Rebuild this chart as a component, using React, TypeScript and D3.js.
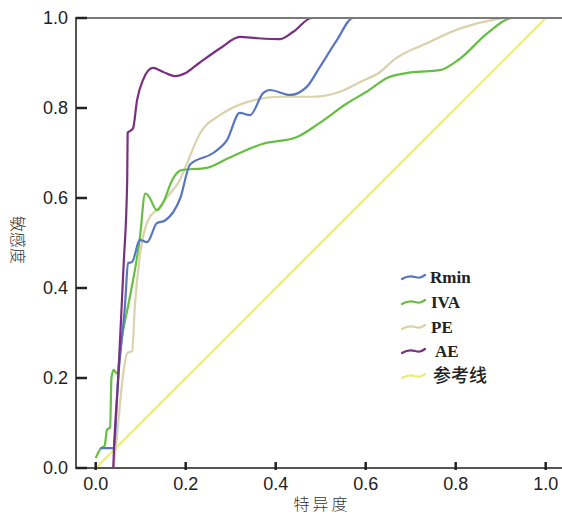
import React, { useEffect, useRef } from 'react';
import * as d3 from 'd3';

// ROC 曲线数据
const rminFpr = [0.01, 0.04, 0.05, 0.065, 0.072, 0.081, 0.098, 0.114, 0.136, 0.154, 0.188, 0.21, 0.261, 0.292, 0.32, 0.343, 0.372, 0.387, 0.432, 0.469, 0.498, 0.536, 0.572, 1.0];
const rminTpr = [0.044, 0.044, 0.2, 0.36, 0.455, 0.458, 0.507, 0.502, 0.544, 0.55, 0.6, 0.675, 0.7, 0.729, 0.789, 0.784, 0.833, 0.84, 0.829, 0.847, 0.891, 0.951, 1.0, 1.0];

const ivaFpr = [0.0, 0.01, 0.02, 0.025, 0.032, 0.035, 0.04, 0.047, 0.058, 0.072, 0.098, 0.11, 0.117, 0.136, 0.15, 0.17, 0.19, 0.247, 0.298, 0.37, 0.446, 0.498, 0.558, 0.6, 0.65, 0.7, 0.765, 0.81, 0.87, 0.927, 1.0];
const ivaTpr = [0.022, 0.042, 0.05, 0.085, 0.09, 0.2, 0.218, 0.21, 0.29, 0.36, 0.51, 0.61, 0.605, 0.573, 0.59, 0.64, 0.662, 0.667, 0.69, 0.72, 0.735, 0.767, 0.81, 0.835, 0.868, 0.879, 0.884, 0.91, 0.966, 1.0, 1.0];

const peFpr = [0.04, 0.05, 0.06, 0.07, 0.081, 0.087, 0.098, 0.116, 0.142, 0.165, 0.187, 0.2, 0.232, 0.276, 0.336, 0.41, 0.483, 0.543, 0.588, 0.632, 0.661, 0.736, 0.81, 0.883, 0.914, 1.0];
const peTpr = [0.0, 0.1, 0.2, 0.255, 0.26, 0.36, 0.47, 0.55, 0.58, 0.61, 0.64, 0.67, 0.744, 0.784, 0.813, 0.825, 0.825, 0.836, 0.858, 0.88, 0.906, 0.944, 0.977, 0.996, 1.0, 1.0];

const aeFpr = [0.039, 0.041, 0.05, 0.062, 0.07, 0.071, 0.078, 0.083, 0.092, 0.105, 0.127, 0.15, 0.176, 0.2, 0.23, 0.28, 0.32, 0.36, 0.41, 0.44, 0.48, 1.0];
const aeTpr = [0.0, 0.05, 0.2, 0.45, 0.64, 0.745, 0.75, 0.755, 0.818, 0.862, 0.889, 0.88, 0.871, 0.878, 0.9, 0.935, 0.958, 0.955, 0.953, 0.97, 1.0, 1.0];

const refFpr = [0, 1];
const refTpr = [0, 1];

const seriesNames = ['Rmin', 'IVA', 'PE', 'AE', '参考线'];
const seriesColors = ['#5876c0', '#66bf42', '#d9d2aa', '#7a2f82', '#e9ee78'];
const xTicks = [0, 0.2, 0.4, 0.6, 0.8, 1.0];
const yTicks = [0, 0.2, 0.4, 0.6, 0.8, 1.0];
const xTitle = '特异度';
const yTitle = '敏感度';

const W = 562;
const H = 515;

const App = () => {
  const svgRef = useRef<SVGSVGElement | null>(null);

  useEffect(() => {
    const svg = d3.select(svgRef.current);
    svg.selectAll('*').remove();

    const x = d3.scaleLinear().domain([0, 1]).range([95.7, 545.7]);
    const y = d3.scaleLinear().domain([0, 1]).range([468, 18]);
    const left = 76;
    const right = W;

    const series = [
      { fpr: rminFpr, tpr: rminTpr },
      { fpr: ivaFpr, tpr: ivaTpr },
      { fpr: peFpr, tpr: peTpr },
      { fpr: aeFpr, tpr: aeTpr },
      { fpr: refFpr, tpr: refTpr },
    ];

    // 曲线
    const line = d3.line<[number, number]>()
      .x(d => x(d[0]))
      .y(d => y(d[1]))
      .curve(d3.curveMonotoneX);

    // 参考线先画（在最下层）
    const order = [4, 2, 1, 0, 3];
    order.forEach(i => {
      const s = series[i];
      const pts = s.fpr.map((f, k) => [f, s.tpr[k]] as [number, number]);
      svg.append('path')
        .attr('d', line(pts))
        .attr('fill', 'none')
        .attr('stroke', seriesColors[i])
        .attr('stroke-width', 2.2)
        .attr('stroke-linejoin', 'round');
    });

    // 坐标轴框线
    const axisColor = '#555';
    svg.append('line')
      .attr('x1', left).attr('x2', right)
      .attr('y1', y(1)).attr('y2', y(1))
      .attr('stroke', '#7a7a7a').attr('stroke-width', 2);
    svg.append('line')
      .attr('x1', left).attr('x2', left)
      .attr('y1', y(1) - 1).attr('y2', y(0) + 1)
      .attr('stroke', axisColor).attr('stroke-width', 2);
    svg.append('line')
      .attr('x1', left).attr('x2', right)
      .attr('y1', y(0)).attr('y2', y(0))
      .attr('stroke', axisColor).attr('stroke-width', 2);

    // Y 刻度
    yTicks.forEach(t => {
      svg.append('line')
        .attr('x1', left).attr('x2', left + 11)
        .attr('y1', y(t)).attr('y2', y(t))
        .attr('stroke', '#222').attr('stroke-width', 2.5);
      svg.append('text')
        .attr('x', 68).attr('y', y(t))
        .attr('dy', '0.36em')
        .attr('text-anchor', 'end')
        .style('font-family', '"Liberation Sans", Arial, sans-serif')
        .style('font-size', '18px')
        .style('fill', '#222')
        .text(d3.format('.1f')(t));
    });

    // X 刻度
    xTicks.forEach(t => {
      svg.append('line')
        .attr('x1', x(t)).attr('x2', x(t))
        .attr('y1', y(0) - 6).attr('y2', y(0) + 2)
        .attr('stroke', '#222').attr('stroke-width', 2.5);
      svg.append('text')
        .attr('x', x(t)).attr('y', 490)
        .attr('text-anchor', 'middle')
        .style('font-family', '"Liberation Sans", Arial, sans-serif')
        .style('font-size', '18px')
        .style('fill', '#222')
        .text(d3.format('.1f')(t));
    });

    // 轴标题
    svg.append('text')
      .attr('x', 322).attr('y', 510)
      .attr('text-anchor', 'middle')
      .style('font-family', '"Noto Sans CJK SC", sans-serif')
      .style('font-size', '16px')
      .style('font-weight', 300)
      .style('letter-spacing', '3px')
      .style('fill', '#333')
      .text(xTitle);
    svg.append('text')
      .attr('transform', `translate(12, 240) rotate(90)`)
      .attr('text-anchor', 'middle')
      .style('font-family', '"Noto Sans CJK SC", sans-serif')
      .style('font-size', '16px')
      .style('font-weight', 300)
      .style('fill', '#333')
      .text(yTitle);

    // 图例
    const legendY = [277, 302, 327, 351, 376];
    const legendTextX = [430, 431, 431, 435, 433];
    const legend = svg.append('g');
    seriesNames.forEach((name, i) => {
      const g = legend.append('g').attr('transform', `translate(402, ${legendY[i]})`);
      g.append('path')
        .attr('d', 'M0,2 C5,-1 9,-1 13,0 S19,1 23,-2')
        .attr('fill', 'none')
        .attr('stroke', seriesColors[i])
        .attr('stroke-width', 2.2)
        .attr('stroke-linecap', 'round');
      svg.append('text')
        .attr('x', legendTextX[i]).attr('y', legendY[i] + 6)
        .style('font-family', i === 4 ? '"Noto Sans CJK SC", sans-serif' : '"Liberation Serif", serif')
        .style('font-size', i === 4 ? '18px' : '17px')
        .style('font-weight', i === 4 ? 500 : 'bold')
        .style('fill', '#222')
        .text(name);
    });
  }, []);

  return (
    <svg
      ref={svgRef}
      width={W}
      height={H}
      style={{ position: 'absolute', left: 0, top: 0, background: '#fff' }}
    />
  );
};

export default App;
